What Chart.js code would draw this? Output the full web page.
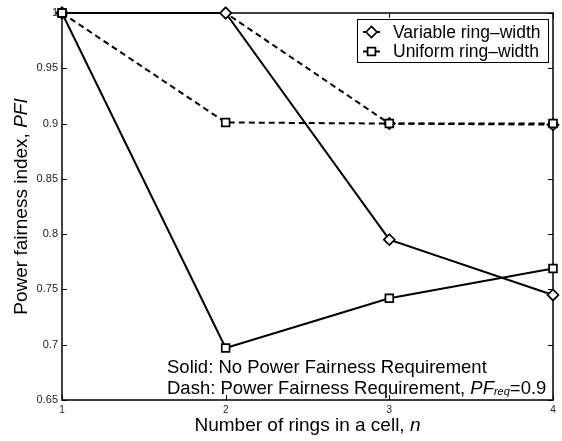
<!DOCTYPE html>
<html>
<head>
<meta charset="utf-8">
<script src="https://cdn.jsdelivr.net/npm/chart.js@4/dist/chart.umd.min.js"></script>
<style>
  body { margin: 0; background: #fff; }
  canvas { display: block; }
</style>
</head>
<body>
<canvas id="pfiChart" width="562" height="441"></canvas>
<script>
// number of rings in a cell
const rings = [1, 2, 3, 4];
// power fairness index
const variableSolid = [1.0, 1.0, 0.795, 0.745];
const uniformSolid = [1.0, 0.697, 0.742, 0.769];
const variableDash = [1.0, 1.0, 0.900, 0.899];
const uniformDash = [1.0, 0.901, 0.900, 0.900];
const xTicks = [1, 2, 3, 4];
const yTicks = [0.65, 0.7, 0.75, 0.8, 0.85, 0.9, 0.95, 1];
const legendLabels = ['Variable ring\u2013width', 'Uniform ring\u2013width'];

const FONT = "'Liberation Sans', Arial, Helvetica, sans-serif";

function toPoints(values) {
    return rings.map((r, i) => ({ x: r, y: values[i] }));
}

function lineSet(label, values, style, dashed, order) {
    return {
        label: label,
        data: toPoints(values),
        borderColor: '#000',
        borderWidth: 2,
        borderDash: dashed ? [6, 4] : [],
        pointStyle: style,
        pointRadius: 5.5,
        pointBorderWidth: 1.7,
        pointBackgroundColor: '#fff',
        pointBorderColor: '#000',
        tension: 0,
        clip: false,
        order: order
    };
}

// draw a run of text pieces with different styles, left to right
function drawPieces(ctx, pieces, x, y) {
    pieces.forEach(p => {
        ctx.font = p.font;
        ctx.fillText(p.text, x, y + (p.dy || 0));
        x += ctx.measureText(p.text).width;
    });
    return x;
}

function piecesWidth(ctx, pieces) {
    let w = 0;
    pieces.forEach(p => { ctx.font = p.font; w += ctx.measureText(p.text).width; });
    return w;
}

const matlabFrame = {
    id: 'matlabFrame',
    beforeDatasetsDraw(chart) {
        const { ctx, chartArea: a, scales } = chart;
        ctx.save();
        ctx.strokeStyle = '#000';
        ctx.lineWidth = 1.5;
        ctx.strokeRect(a.left, a.top, a.right - a.left, a.bottom - a.top);
        ctx.lineWidth = 1;
        ctx.beginPath();
        xTicks.forEach(v => {
            const px = Math.round(scales.x.getPixelForValue(v)) + 0.5;
            ctx.moveTo(px, a.bottom); ctx.lineTo(px, a.bottom - 5);
            ctx.moveTo(px, a.top); ctx.lineTo(px, a.top + 5);
        });
        yTicks.forEach(v => {
            const py = Math.round(scales.y.getPixelForValue(v)) + 0.5;
            ctx.moveTo(a.left, py); ctx.lineTo(a.left + 5, py);
            ctx.moveTo(a.right, py); ctx.lineTo(a.right - 5, py);
        });
        ctx.stroke();
        ctx.restore();
    },
    afterDatasetsDraw(chart) {
        const { ctx, chartArea: a } = chart;
        ctx.save();
        ctx.fillStyle = '#000';
        ctx.textBaseline = 'middle';
        ctx.textAlign = 'left';

        // legend box
        const lx = 357, ly = 19, lw = 191, lh = 43;
        ctx.fillStyle = '#fff';
        ctx.fillRect(lx, ly, lw, lh);
        ctx.strokeStyle = '#000';
        ctx.lineWidth = 1;
        ctx.strokeRect(lx + 0.5, ly + 0.5, lw, lh);
        const styles = ['rectRot', 'rect'];
        legendLabels.forEach((t, i) => {
            const y = 32 + i * 19.5;
            ctx.strokeStyle = '#000';
            ctx.lineWidth = 2;
            ctx.beginPath();
            ctx.moveTo(363, y); ctx.lineTo(380, y);
            ctx.stroke();
            ctx.fillStyle = '#fff';
            ctx.lineWidth = 1.7;
            Chart.helpers.drawPoint(ctx, { pointStyle: styles[i], radius: 5.5, rotation: 0, borderWidth: 1.7 }, 371.5, y);
            ctx.fillStyle = '#000';
            ctx.font = '17.5px ' + FONT;
            ctx.fillText(t, 393, y + 1);
        });

        // annotation
        const big = '18.5px ' + FONT;
        drawPieces(ctx, [{ text: 'Solid: No Power Fairness Requirement', font: big }], 167, 368);
        drawPieces(ctx, [
            { text: 'Dash: Power Fairness Requirement, ', font: big },
            { text: 'PF', font: 'italic ' + big },
            { text: 'req', font: 'italic 11px ' + FONT, dy: 3 },
            { text: '=0.9', font: big }
        ], 167, 389);

        // x title
        const xt = [
            { text: 'Number of rings in a cell, ', font: '19px ' + FONT },
            { text: 'n', font: 'italic 19px ' + FONT }
        ];
        drawPieces(ctx, xt, (a.left + a.right) / 2 - piecesWidth(ctx, xt) / 2, 426);

        // y title
        const yt = [
            { text: 'Power fairness index, ', font: '19px ' + FONT },
            { text: 'PFI', font: 'italic 19px ' + FONT }
        ];
        ctx.translate(22, (a.top + a.bottom) / 2);
        ctx.rotate(-Math.PI / 2);
        drawPieces(ctx, yt, -piecesWidth(ctx, yt) / 2, 0);
        ctx.restore();
    }
};

const pfiCtx = document.getElementById('pfiChart').getContext('2d');
const pfiChart = new Chart(pfiCtx, {
    type: 'line',
    data: {
        datasets: [
            lineSet('Variable ring-width', variableSolid, 'rectRot', false, 1),
            lineSet('Uniform ring-width', uniformSolid, 'rect', false, 0),
            lineSet('Variable ring-width (PFreq)', variableDash, 'rectRot', true, 1),
            lineSet('Uniform ring-width (PFreq)', uniformDash, 'rect', true, 0)
        ]
    },
    options: {
        responsive: false,
        animation: false,
        layout: { padding: { top: 13, right: 9, left: 0, bottom: 0 } },
        plugins: {
            legend: { display: false },
            tooltip: { enabled: false }
        },
        scales: {
            x: {
                type: 'linear',
                min: 1,
                max: 4,
                grid: { display: false, drawTicks: false },
                border: { display: false },
                afterBuildTicks: scale => { scale.ticks = xTicks.map(v => ({ value: v })); },
                afterFit: scale => { scale.height = 41; },
                ticks: {
                    padding: 4,
                    color: '#222',
                    font: { family: FONT, size: 10 },
                    callback: v => String(v)
                }
            },
            y: {
                min: 0.65,
                max: 1,
                grid: { display: false, drawTicks: false },
                border: { display: false },
                afterBuildTicks: scale => { scale.ticks = yTicks.map(v => ({ value: v })); },
                afterFit: scale => { scale.width = 62; },
                ticks: {
                    padding: 4,
                    color: '#222',
                    font: { family: FONT, size: 11 },
                    callback: v => String(+v.toFixed(2))
                }
            }
        }
    },
    plugins: [matlabFrame]
});
</script>
</body>
</html>
